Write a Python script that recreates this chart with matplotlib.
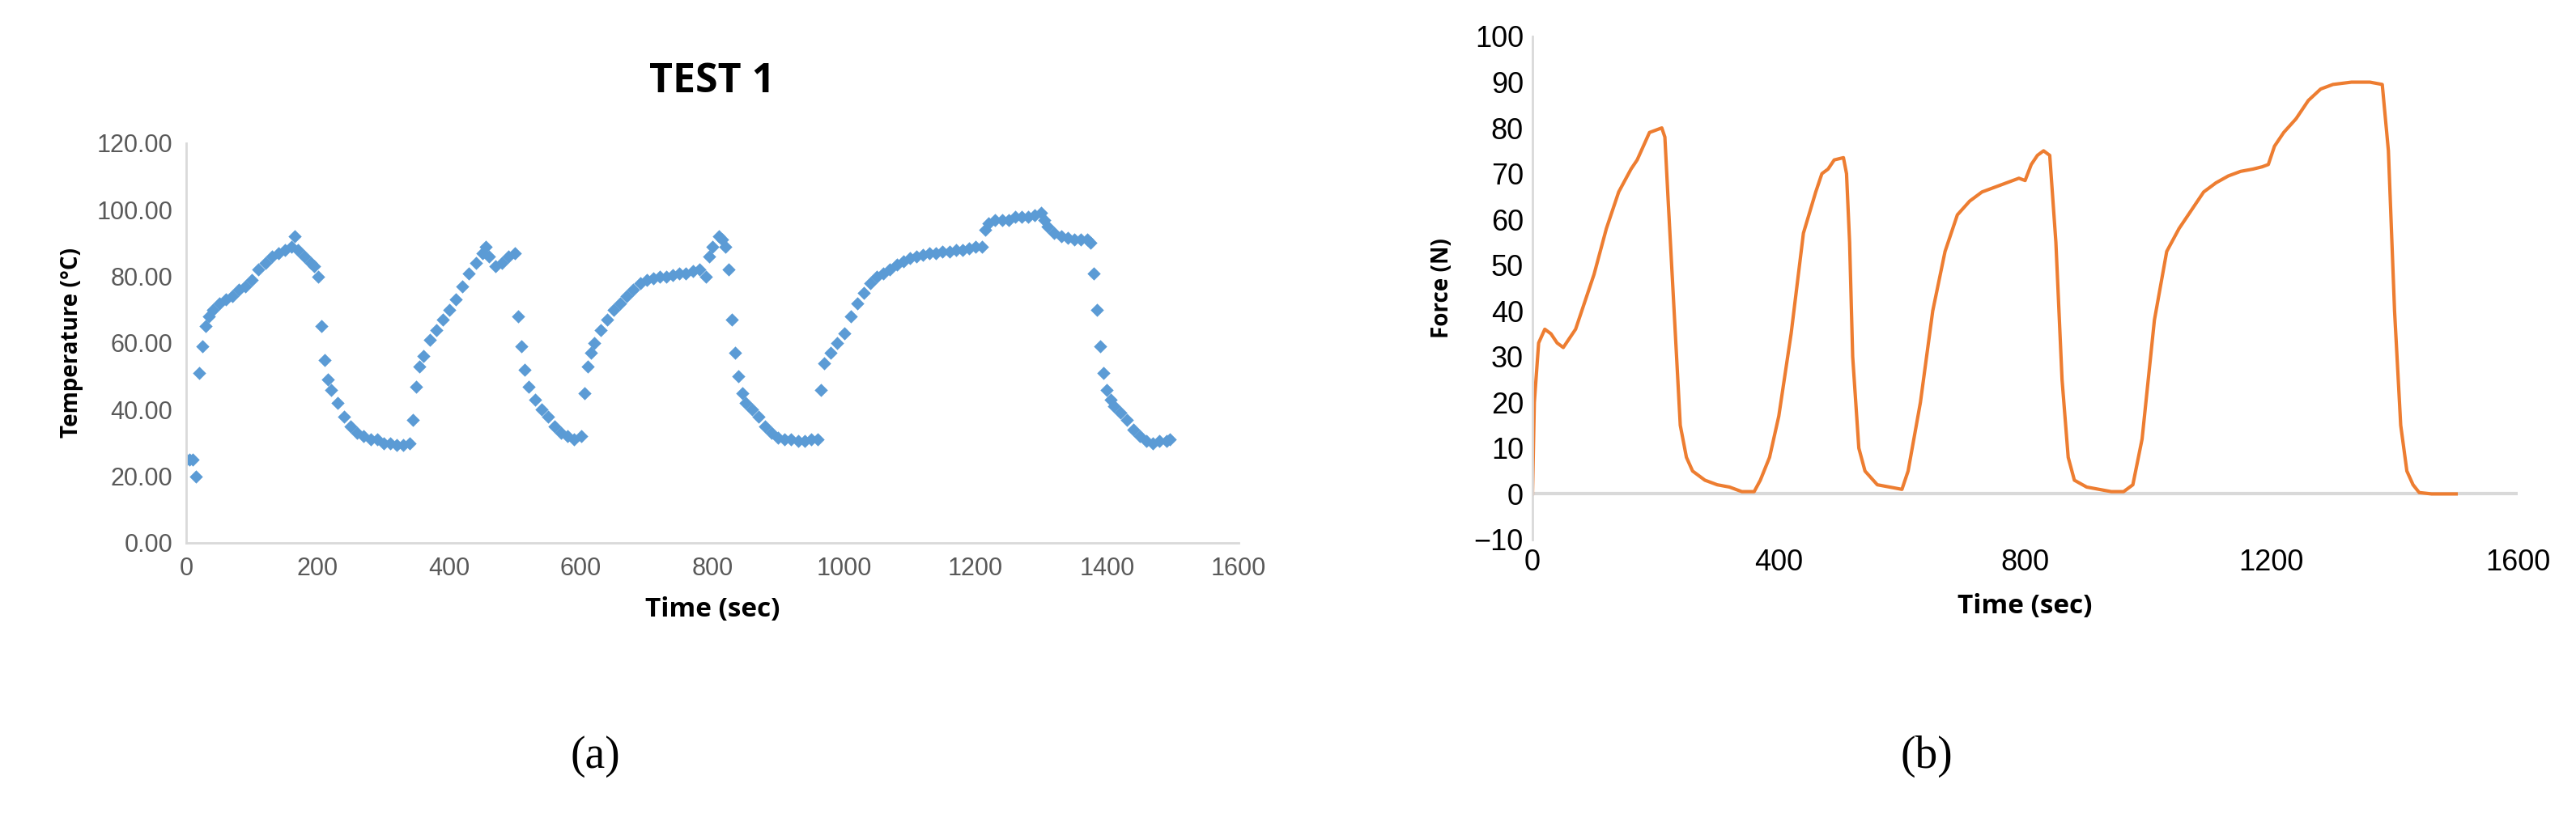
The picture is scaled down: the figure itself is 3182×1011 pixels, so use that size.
import matplotlib.pyplot as plt
import numpy as np

# Test 1 temperature (scatter)
temp_t = [0, 5, 10, 15, 20, 25, 30, 35, 40, 50, 60, 70, 80, 90, 100, 110, 120, 130, 140, 150, 160, 165, 170, 180, 190, 195,
          200, 205, 210, 215, 220, 230, 240, 250, 260, 270, 280, 290, 300, 310, 320, 330, 340, 345, 350, 355, 360, 370, 380,
          390, 400, 410, 420, 430, 440, 450, 455, 460, 470, 480, 490, 500, 505, 510, 515, 520, 530, 540, 550, 560, 570, 580,
          590, 600, 605, 610, 615, 620, 630, 640, 650, 660, 670, 680, 690, 700, 710, 720, 730, 740, 750, 760, 770, 780, 790,
          795, 800, 810, 815, 820, 825, 830, 835, 840, 845, 850, 860, 870, 880, 890, 900, 910, 920, 930, 940, 950, 960, 965,
          970, 980, 990, 1000, 1010, 1020, 1030, 1040, 1050, 1060, 1070, 1080, 1090, 1100, 1110, 1120, 1130, 1140, 1150, 1160,
          1170, 1180, 1190, 1200, 1210, 1215, 1220, 1230, 1240, 1250, 1260, 1270, 1280, 1290, 1300, 1305, 1310, 1320, 1330,
          1340, 1350, 1360, 1370, 1375, 1380, 1385, 1390, 1395, 1400, 1405, 1410, 1420, 1430, 1440, 1450, 1460, 1470, 1480,
          1490, 1495]
temp_v = [25, 25, 25, 20, 51, 59, 65, 68, 70, 72, 73, 74, 76, 77, 79, 82, 84, 86, 87, 88, 89, 92, 88, 86, 84, 83,
          80, 65, 55, 49, 46, 42, 38, 35, 33, 32, 31, 31, 30, 30, 29.5, 29.5, 30, 37, 47, 53, 56, 61, 64,
          67, 70, 73, 77, 81, 84, 87, 89, 86, 83, 84, 86, 87, 68, 59, 52, 47, 43, 40, 38, 35, 33, 32,
          31, 32, 45, 53, 57, 60, 64, 67, 70, 72, 74, 76, 78, 79, 79.5, 80, 80, 80.5, 81, 81, 81.5, 82, 80,
          86, 89, 92, 91, 89, 82, 67, 57, 50, 45, 42, 40, 38, 35, 33, 31.5, 31, 31, 30.5, 30.5, 31, 31, 46,
          54, 57, 60, 63, 68, 72, 75, 78, 80, 81, 82, 83.5, 84.5, 85.5, 86, 86.5, 87, 87, 87.5, 87.5,
          88, 88, 88.5, 89, 89, 94, 96, 97, 97, 97, 98, 98, 98, 98.5, 99, 97, 95, 93, 92,
          91.5, 91, 91, 91, 90, 81, 70, 59, 51, 46, 43, 41, 39, 37, 34, 32, 30.5, 30, 30.5,
          30.5, 31]

# Force (line)
force_t = [0, 3, 10, 20, 30, 40, 50, 60, 70, 80, 100, 120, 140, 160, 170, 180, 190, 200, 210, 215, 220, 230, 240, 250,
           260, 280, 300, 320, 340, 360, 370, 385, 400, 420, 440, 460, 470, 480, 490, 505, 510, 515, 520, 530, 540, 560,
           580, 600, 610, 630, 650, 670, 690, 710, 730, 750, 770, 790, 800, 810, 820, 830, 840, 850, 860, 870, 880, 900,
           920, 940, 960, 975, 990, 1010, 1030, 1050, 1070, 1090, 1110, 1130, 1150, 1170, 1185, 1195, 1205, 1220, 1240,
           1260, 1280, 1300, 1330, 1360, 1380, 1390, 1400, 1410, 1420, 1430, 1440, 1460, 1500]
force_v = [0, 20, 33, 36, 35, 33, 32, 34, 36, 40, 48, 58, 66, 71, 73, 76, 79, 79.5, 80, 78, 65, 40, 15, 8,
           5, 3, 2, 1.5, 0.5, 0.5, 3, 8, 17, 35, 57, 66, 70, 71, 73, 73.5, 70, 55, 30, 10, 5, 2,
           1.5, 1, 5, 20, 40, 53, 61, 64, 66, 67, 68, 69, 68.5, 72, 74, 75, 74, 55, 25, 8, 3, 1.5,
           1, 0.5, 0.5, 2, 12, 38, 53, 58, 62, 66, 68, 69.5, 70.5, 71, 71.5, 72, 76, 79, 82,
           86, 88.5, 89.5, 90, 90, 89.5, 75, 40, 15, 5, 2, 0.3, 0, 0]

W, H = 3182, 1011
fig = plt.figure(figsize=(W / 100, H / 100), dpi=100)
tick_font = 'Liberation Sans'
lab_font = 'Open Sans'

# (a) temperature
ax1 = fig.add_axes([230 / W, 1 - 671 / H, (1530 - 230) / W, (671 - 177) / H])
ax1.scatter(temp_t, temp_v, marker='D', s=70, color='#5b9bd5', linewidths=0)
ax1.set_xlim(0, 1600)
ax1.set_ylim(0, 120)
ax1.set_xticks(range(0, 1601, 200))
ax1.set_yticks(range(0, 121, 20))
ax1.set_yticklabels([f'{v:.2f}' for v in range(0, 121, 20)])
for s in ['top', 'right', 'left']:
    ax1.spines[s].set_visible(False)
ax1.spines['bottom'].set_color('#d9d9d9')
ax1.spines['bottom'].set_linewidth(2)
ax1.tick_params(length=0, labelsize=22, colors='#595959', pad=12)
for lbl in ax1.get_xticklabels() + ax1.get_yticklabels():
    lbl.set_family(tick_font)
ax1.set_xlabel('Time (sec)', fontsize=24, fontweight='bold', family=lab_font, labelpad=14)
ax1.set_ylabel('Temperature (°C)', fontsize=20, fontweight='bold', family=lab_font, labelpad=12)
ax1.set_title('TEST 1', fontsize=36, fontweight='bold', family=lab_font, pad=45)
ax1.plot([0, 0], [0, 120], color='#d9d9d9', lw=2, clip_on=False)

# (b) force
ax2 = fig.add_axes([1893 / W, 1 - 667 / H, (3110 - 1893) / W, (667 - 45) / H])
ax2.plot(force_t, force_v, color='#ed7d31', lw=3)
ax2.set_xlim(0, 1600)
ax2.set_ylim(-10, 100)
ax2.set_xticks(range(0, 1601, 400))
ax2.set_yticks(range(-10, 101, 10))
for s in ['top', 'right', 'bottom']:
    ax2.spines[s].set_visible(False)
ax2.spines['left'].set_color('#d9d9d9')
ax2.spines['left'].set_linewidth(2)
ax2.axhline(0, color='#d9d9d9', lw=3, zorder=0)
ax2.tick_params(length=0, labelsize=26, colors='black', pad=8)
for lbl in ax2.get_xticklabels() + ax2.get_yticklabels():
    lbl.set_family(tick_font)
ax2.set_xlabel('Time (sec)', fontsize=24, fontweight='bold', family=lab_font, labelpad=14)
ax2.set_ylabel('Force (N)', fontsize=20, fontweight='bold', family=lab_font, labelpad=18)

fig.text(735 / W, 1 - 935 / H, '(a)', fontsize=40, family='Liberation Serif', ha='center', va='center')
fig.text(2380 / W, 1 - 935 / H, '(b)', fontsize=40, family='Liberation Serif', ha='center', va='center')
fig.savefig('out.png', dpi=100)
